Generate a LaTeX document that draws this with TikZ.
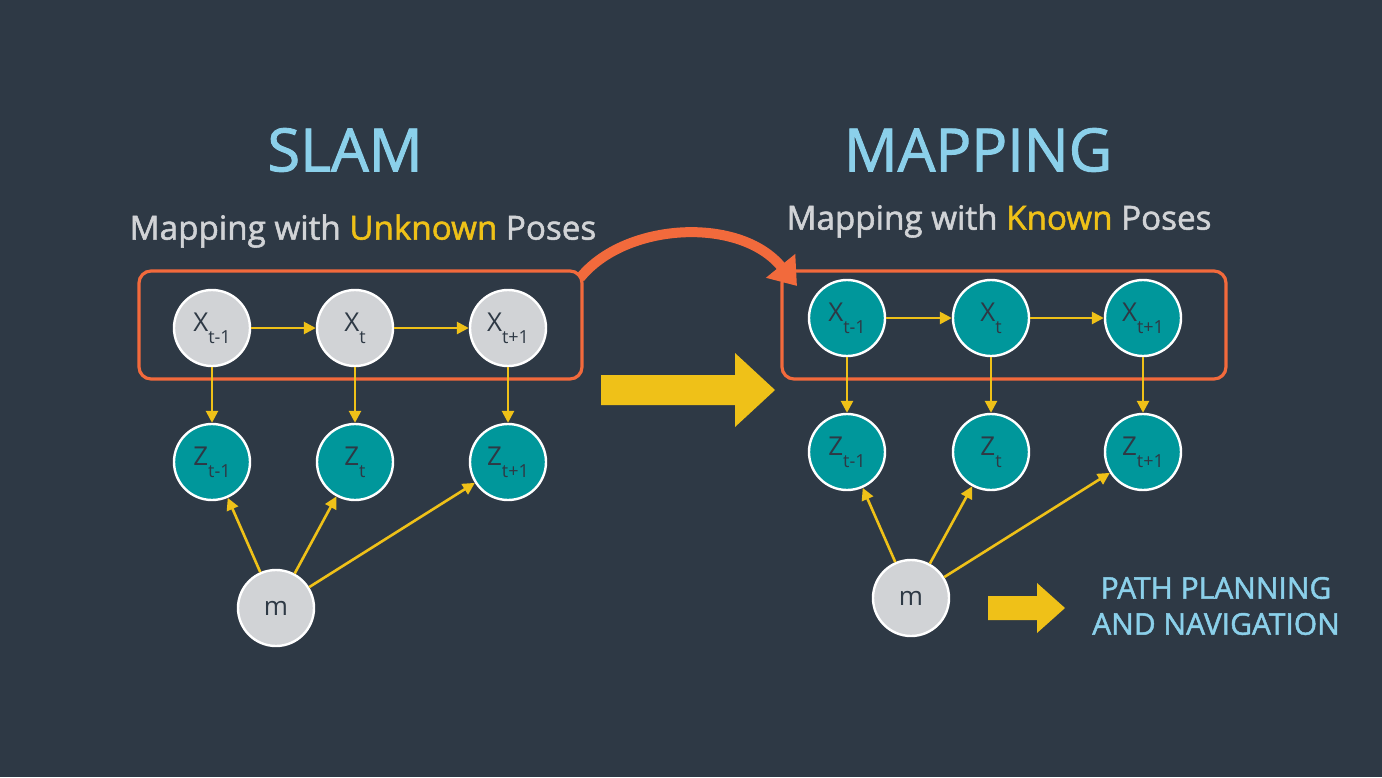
\documentclass[tikz,border=0pt]{standalone}
\usepackage{fontspec}
\setmainfont{Open Sans}
\newfontfamily\heavysans{Open Sans}[FakeBold=1.6]
\usetikzlibrary{arrows.meta}
\definecolor{bgslate}{HTML}{2E3945}
\definecolor{nodegray}{HTML}{D1D3D6}
\definecolor{nodeteal}{HTML}{00979B}
\definecolor{linkyellow}{HTML}{EFC118}
\definecolor{frameorange}{HTML}{F26A3C}
\definecolor{titleblue}{HTML}{8BD0EA}
\definecolor{labeldark}{HTML}{2E3945}
\newcommand{\varlabel}[2]{#1\raisebox{-6pt}{\fontsize{9}{9}\selectfont #2}}
\tikzset{
  statenode/.style={circle, draw=white, line width=1.2pt, fill=nodegray, minimum size=38pt, inner sep=0pt,
    text=labeldark, font=\fontsize{13}{13}\selectfont},
  obsnode/.style={statenode, fill=nodeteal},
  link/.style={draw=linkyellow, line width=1.3pt, -{Triangle[length=6pt,width=6pt]}},
  frame/.style={draw=frameorange, line width=1.6pt, rounded corners=6pt},
  bigtitle/.style={text=titleblue, font=\heavysans\fontsize{29.8}{30}\selectfont},
  subtitle/.style={text=nodegray, font=\heavysans\fontsize{16.6}{17}\selectfont},
  bigarrow/.style={fill=linkyellow, draw=none}
}
\begin{document}
\begin{tikzpicture}[x=0.5pt,y=-0.5pt]
  \fill[bgslate] (0,0) rectangle (1382,777);
  \useasboundingbox (0,0) rectangle (1382,777);

  % ---- SLAM ----
  \node[bigtitle] (slamtitle) at (345,150) {SLAM};
  \node[subtitle] (slamsub) at (363,231) {Mapping with \textcolor{linkyellow}{Unknown} Poses};
  \draw[frame] (139,271) rectangle (582,379);
  \node[statenode] (lx1) at (212,328) {\varlabel{X}{t-1}};
  \node[statenode] (lx2) at (355,328) {\varlabel{X}{t}};
  \node[statenode] (lx3) at (508,328) {\varlabel{X}{t+1}};
  \node[obsnode] (lz1) at (212,462) {\varlabel{Z}{t-1}};
  \node[obsnode] (lz2) at (355,462) {\varlabel{Z}{t}};
  \node[obsnode] (lz3) at (508,462) {\varlabel{Z}{t+1}};
  \node[statenode] (lm) at (276,608) {m};
  \draw[link] (lx1) -- (lx2);
  \draw[link] (lx2) -- (lx3);
  \draw[link] (lx1) -- (lz1);
  \draw[link] (lx2) -- (lz2);
  \draw[link] (lx3) -- (lz3);
  \draw[link] (lm) -- (lz1);
  \draw[link] (lm) -- (lz2);
  \draw[link] (lm) -- (lz3);

  % ---- MAPPING ----
  \node[bigtitle] (maptitle) at (978,150) {MAPPING};
  \node[subtitle] (mapsub) at (999,221) {Mapping with \textcolor{linkyellow}{Known} Poses};
  \draw[frame] (782,271) rectangle (1226,379);
  \node[obsnode] (rx1) at (847,318) {\varlabel{X}{t-1}};
  \node[obsnode] (rx2) at (991,318) {\varlabel{X}{t}};
  \node[obsnode] (rx3) at (1143,318) {\varlabel{X}{t+1}};
  \node[obsnode] (rz1) at (847,452) {\varlabel{Z}{t-1}};
  \node[obsnode] (rz2) at (991,452) {\varlabel{Z}{t}};
  \node[obsnode] (rz3) at (1143,452) {\varlabel{Z}{t+1}};
  \node[statenode] (rm) at (911,598) {m};
  \draw[link] (rx1) -- (rx2);
  \draw[link] (rx2) -- (rx3);
  \draw[link] (rx1) -- (rz1);
  \draw[link] (rx2) -- (rz2);
  \draw[link] (rx3) -- (rz3);
  \draw[link] (rm) -- (rz1);
  \draw[link] (rm) -- (rz2);
  \draw[link] (rm) -- (rz3);

  % ---- transitions ----
  \coordinate (curvefrom) at (580,278);
  \coordinate (curveto) at (797,286);
  \draw[frameorange, line width=5pt, -{Triangle[length=13pt,width=18pt]}]
    (curvefrom) .. controls (625,222) and (740,216) .. (curveto);
  \fill[bigarrow] (601,375) -- (735,375) -- (735,353) -- (775,390) -- (735,427) -- (735,405) -- (601,405) -- cycle;
  \fill[bigarrow] (988,596) -- (1037,596) -- (1037,583) -- (1065,608) -- (1037,633) -- (1037,620) -- (988,620) -- cycle;
  \node[text=titleblue, font=\heavysans\fontsize{15}{18}\selectfont, align=center] (nextstep) at (1216,606) {PATH PLANNING\\AND NAVIGATION};
\end{tikzpicture}
\end{document}
